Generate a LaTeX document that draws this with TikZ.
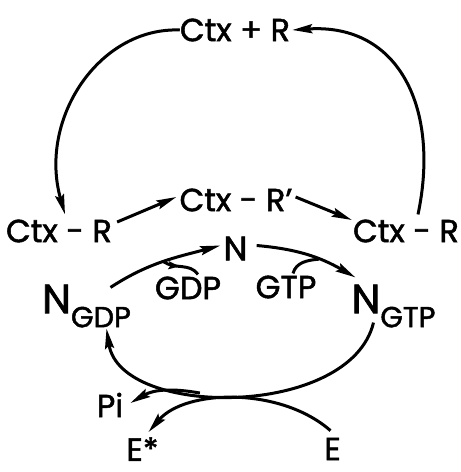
\documentclass[tikz,border=0pt]{standalone}
\usepackage{fontspec}
\setmainfont{Poppins}[FakeBold=1.6]
\usetikzlibrary{arrows.meta,calc,decorations.markings}
\begin{document}
\begin{tikzpicture}[x=1pt,y=-1pt,
  lbl/.style={inner sep=0pt, font=\fontsize{32}{32}\selectfont},
  big/.style={inner sep=0pt, font=\fontsize{34}{34}\selectfont},
  conn/.style={line width=3pt},
  arr/.style={conn,-{Stealth[length=20pt,width=9pt,inset=3pt]}},
  midarr/.style={postaction={decorate,decoration={markings,
      mark=at position #1 with {\arrow{Stealth[length=11pt,width=8pt,inset=2pt]}}}}},
]
\useasboundingbox (0,0) rectangle (461,472);
% nodes
\node[lbl] (ctxr)  at (235,30)  {Ctx + R};
\node[lbl] (ctxrl) at (59,231)  {Ctx - R};
\node[lbl] (ctxrp) at (236,200) {Ctx - R'};
\node[lbl] (ctxrr) at (406,231) {Ctx - R};
\node[big] (nn)    at (235.5,248.5) {N};
\node[lbl] (ngdp)  at (86.5,306) {{\fontsize{41}{41}\selectfont N}\raisebox{-14pt}{\fontsize{29}{29}\selectfont GDP}};
\node[lbl] (ngtp)  at (393.5,306) {{\fontsize{41}{41}\selectfont N}\raisebox{-14pt}{\fontsize{29}{29}\selectfont GTP}};
\node[lbl] (gdp)   at (188,288) {GDP};
\node[lbl] (gtp)   at (286,287) {GTP};
\node[lbl] (pi)    at (110,405) {Pi};
\node[lbl] (estar) at (142.5,449) {E*};
\node[lbl] (e)     at (332.5,449) {E};
% outer cycle
\draw[arr] (ctxr.west) .. controls +(-81,-3) and +(-27,-95) .. ([xshift=6pt,yshift=5pt]ctxrl.north);
\draw[arr] ([xshift=12pt,yshift=5pt]ctxrr.north) .. controls +(22,-104) and +(108,-7) .. ([xshift=2pt]ctxr.east);
\draw[arr] ([xshift=5pt,yshift=9pt]ctxrl.east) -- ([xshift=-3pt,yshift=3pt]ctxrp.west);
\draw[arr] ([xshift=3pt,yshift=3pt]ctxrp.east) -- ([xshift=-1pt,yshift=11pt]ctxrr.west);
% N cycle
\draw[arr] ([xshift=24pt,yshift=-3pt]ngdp.north) to[out=33,in=195] coordinate[pos=0.5] (j1) ([xshift=-3pt,yshift=3pt]nn.west);
\draw[conn,midarr=0.45] (j1) to[out=-35,in=125] ([xshift=10pt,yshift=2pt]gdp.north);
\draw[arr] ([xshift=9pt,yshift=3pt]nn.east) to[out=-5,in=150] coordinate[pos=0.62] (j2) ([xshift=4pt,yshift=7pt]ngtp.north west);
\draw[conn] ([xshift=7pt,yshift=2pt]gtp.north) to[out=75,in=185] (j2);
\draw[arr] ([xshift=-20pt,yshift=5pt]ngtp.south) .. controls +(-23,96) and +(14,90) .. ([xshift=20pt,yshift=-1pt]ngdp.south) coordinate[pos=0.6] (j3);
\draw[arr] (j3) to[out=170,in=30] ([xshift=7pt,yshift=2pt]pi.east);
\draw[arr] ([xshift=-2pt,yshift=7pt]e.north) .. controls +(-50,-44) and +(37,-43) .. ([xshift=6pt,yshift=5pt]estar.north);
\end{tikzpicture}
\end{document}
